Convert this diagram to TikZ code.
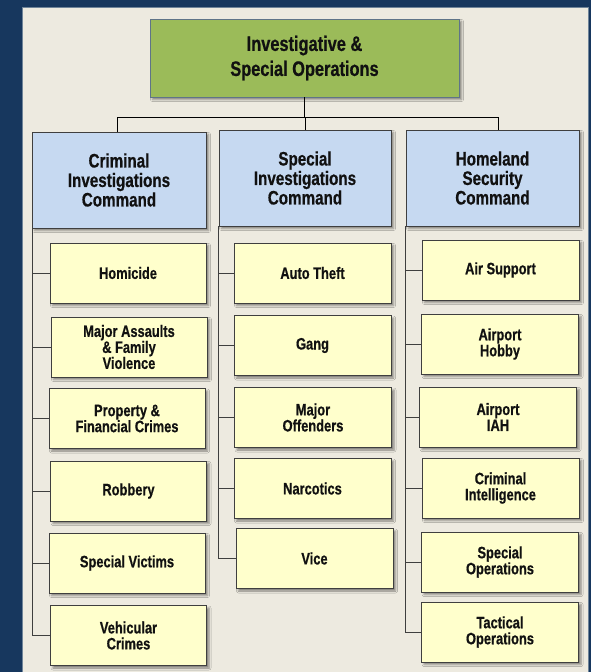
\documentclass[tikz,border=0pt]{standalone}
\usepackage{fontspec}
\setmainfont{Liberation Sans}[FakeStretch=0.78, BoldFeatures={FakeBold=0.6}]
\usetikzlibrary{shadows.blur}
\definecolor{navy}{HTML}{17375E}
\definecolor{panel}{HTML}{EDEAE0}
\definecolor{panelline}{HTML}{6F8499}
\definecolor{topgreen}{HTML}{9BBB59}
\definecolor{topline}{HTML}{5F7488}
\definecolor{cmdblue}{HTML}{C6D9F1}
\definecolor{leafyellow}{HTML}{FFFFCC}
\definecolor{boxline}{HTML}{3F3F3F}
\definecolor{txt}{HTML}{111111}
\tikzset{
  boxbase/.style={rectangle, inner sep=2pt, align=center, text=txt,
    draw=boxline, line width=0.9pt,
    blur shadow={shadow xshift=2.5pt, shadow yshift=-2.5pt, shadow blur radius=2pt, shadow opacity=45}},
  topbox/.style={boxbase, fill=topgreen, draw=topline, minimum width=309, minimum height=78,
    font=\fontsize{21}{25}\selectfont\bfseries},
  cmdbox/.style={boxbase, fill=cmdblue, minimum width=173, minimum height=96,
    font=\fontsize{19.5}{19.5}\selectfont\bfseries},
  leafbox/.style={boxbase, fill=leafyellow, minimum width=156, minimum height=60,
    font=\fontsize{16.5}{16}\selectfont\bfseries},
  busline/.style={draw=black, line width=1pt},
  treeline/.style={draw=boxline, line width=0.9pt}
}
\begin{document}
\begin{tikzpicture}[x=1pt,y=-1pt]
\useasboundingbox (0,0) rectangle (591,672);
\fill[navy] (0,0) rectangle (591,672);
\filldraw[fill=panel, draw=panelline, line width=0.8pt] (22,7) rectangle (588,680);

\coordinate (bus) at (0,117);

\node[topbox] (top) at (304.5,58) {Investigative \&\\Special Operations};
\node[cmdbox, minimum width=174] (cic) at (119,180) {Criminal\\Investigations\\Command};
\node[cmdbox, minimum width=172] (sic) at (305,178) {Special\\Investigations\\Command};
\node[cmdbox] (hsc) at (492.5,178) {Homeland\\Security\\Command};

% left column
\node[leafbox] (hom) at (128,273) {Homicide};
\node[leafbox] (maf) at (129,347) {Major Assaults\\\& Family\\Violence};
\node[leafbox] (pfc) at (127,418.5) {Property \&\\Financial Crimes};
\node[leafbox] (rob) at (128.5,491) {Robbery};
\node[leafbox] (spv) at (127,563) {Special Victims};
\node[leafbox] (veh) at (128.5,635.5) {Vehicular\\Crimes};

% middle column
\node[leafbox, minimum width=157] (aut) at (312.5,273) {Auto Theft};
\node[leafbox, minimum width=157] (gng) at (312.5,345.5) {Gang};
\node[leafbox, minimum width=157] (mof) at (313,417.5) {Major\\Offenders};
\node[leafbox, minimum width=157] (nar) at (312.5,488.5) {Narcotics};
\node[leafbox, minimum width=157] (vic) at (314.5,558.5) {Vice};

% right column
\node[leafbox, minimum width=157] (air) at (500.5,270) {Air Support};
\node[leafbox, minimum width=157] (hob) at (500,344) {Airport\\Hobby};
\node[leafbox, minimum width=157] (iah) at (498,417) {Airport\\IAH};
\node[leafbox, minimum width=157] (cri) at (500.5,488) {Criminal\\Intelligence};
\node[leafbox, minimum width=157] (spo) at (500,562) {Special\\Operations};
\node[leafbox, minimum width=157] (tac) at (500,632) {Tactical\\Operations};

% top bus
\draw[busline] (top.south) -- (top.south |- bus);
\draw[busline] ([xshift=-2pt]cic.north) |- (bus -| top.south);
\draw[busline] (sic.north) -- (sic.north |- bus);
\draw[busline] ([xshift=5.5pt]hsc.north) |- (bus -| top.south);

% left column lines
\coordinate (lx) at ([xshift=1pt]cic.south west);
\draw[treeline] (lx) |- (veh.west);
\foreach \n in {hom,maf,pfc,rob,spv} \draw[treeline] (\n.west) -- (\n.west -| lx);

% middle column lines
\coordinate (mx) at (sic.south west);
\draw[treeline] (mx) |- (vic.west);
\foreach \n in {aut,gng,mof,nar} \draw[treeline] (\n.west) -- (\n.west -| mx);

% right column lines
\coordinate (rx) at (hsc.south west);
\draw[treeline] (rx) |- (tac.west);
\foreach \n in {air,hob,iah,cri,spo} \draw[treeline] (\n.west) -- (\n.west -| rx);
\end{tikzpicture}
\end{document}
